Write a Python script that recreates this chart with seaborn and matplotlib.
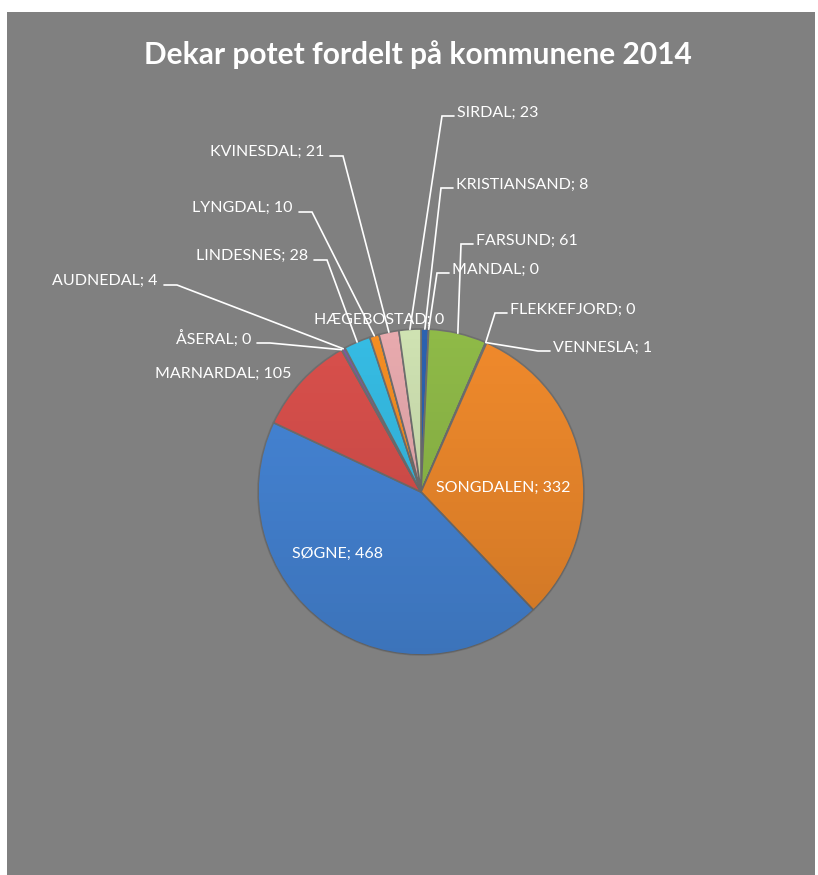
import numpy as np
import matplotlib
matplotlib.use('Agg')
import matplotlib.pyplot as plt
from matplotlib.patches import Circle, Rectangle
import seaborn as sns

# data (kommune order, Vest-Agder)
kommuner = ['KRISTIANSAND', 'MANDAL', 'FARSUND', 'FLEKKEFJORD', 'VENNESLA',
            'SONGDALEN', 'SØGNE', 'MARNARDAL', 'ÅSERAL', 'AUDNEDAL',
            'LINDESNES', 'LYNGDAL', 'HÆGEBOSTAD', 'KVINESDAL', 'SIRDAL']
dekar = [8, 0, 61, 0, 1, 332, 468, 105, 0, 4, 28, 10, 0, 21, 23]
tittel = 'Dekar potet fordelt på kommunene 2014'

farger = ['#2C62B0', '#C0504D', '#8FBA48', '#8064A2', '#4BACC6',
          '#F08A2C', '#4686D8', '#D9504C', '#9BBB59', '#7B5BA0',
          '#36BCE4', '#F48E24', '#4F81BD', '#E8AAAE', '#CFE2B2']

# label placement in pixels (x, y from top), kind of anchor
# 'r' = text right of leader, 'l' = text left of leader, 'c' = centred, no leader,
# 'lr' = right aligned, no leader, 'll' = left aligned, no leader
etikett_pos = {
    'KRISTIANSAND': (456, 185, 'r'),
    'MANDAL': (452, 270, 'r'),
    'FARSUND': (476, 241, 'r'),
    'FLEKKEFJORD': (510, 310, 'r'),
    'VENNESLA': (553, 348, 'r'),
    'SONGDALEN': (503, 488, 'c'),
    'SØGNE': (338, 554, 'c'),
    'MARNARDAL': (291, 374, 'lr'),
    'ÅSERAL': (251, 339, 'l'),
    'AUDNEDAL': (158, 281, 'l'),
    'LINDESNES': (308, 256, 'l'),
    'LYNGDAL': (293, 208, 'l'),
    'HÆGEBOSTAD': (314, 320, 'll'),
    'KVINESDAL': (324, 152, 'l'),
    'SIRDAL': (457, 113, 'r'),
}

W, H = 818, 875
sentrum = (421, H - 492)
radius = 163

sns.set_theme(style='white')
plt.rcParams['font.family'] = ['Lato', 'DejaVu Sans']

fig = plt.figure(figsize=(W / 100, H / 100), dpi=100, facecolor='white')
ax = fig.add_axes([0, 0, 1, 1])
ax.set_xlim(0, W)
ax.set_ylim(0, H)
ax.axis('off')

# grey chart area
ax.add_patch(Rectangle((7, 0), 808, H - 12, facecolor='#808080', edgecolor='none', zorder=0))

wedges, _ = ax.pie(dekar, colors=farger, startangle=90, counterclock=False,
                   center=sentrum, radius=radius, frame=True,
                   wedgeprops=dict(edgecolor='#6f6f6f', linewidth=1.2))
for w in wedges:
    w.set_zorder(2)

# soft shading like the bevelled excel pie
grad = np.linspace(0, 1, 256)[:, None] * np.ones((1, 2))
rgba = np.zeros((256, 2, 4))
rgba[..., 3] = 0.14 * grad
shade = ax.imshow(rgba, extent=(sentrum[0] - radius, sentrum[0] + radius,
                                sentrum[1] - radius, sentrum[1] + radius),
                  origin='upper', zorder=3, aspect='auto')
shade.set_clip_path(Circle(sentrum, radius, transform=ax.transData))

ax.set_xlim(0, W)
ax.set_ylim(0, H)
ax.set_aspect('auto')

fs = 11.5
total = sum(dekar)
kum = np.cumsum([0] + dekar)
for i, navn in enumerate(kommuner):
    tekst = f'{navn}; {dekar[i]}'
    tx, ty_top, kind = etikett_pos[navn]
    ty = H - ty_top
    mid = (kum[i] + kum[i + 1]) / 2 / total * 2 * np.pi
    ax_pt = (sentrum[0] + radius * np.sin(mid), sentrum[1] + radius * np.cos(mid))
    if kind == 'r':
        ax.text(tx, ty, tekst, ha='left', va='center', color='white', fontsize=fs, zorder=5)
        ax.plot([ax_pt[0], tx - 15, tx - 3], [ax_pt[1], ty - 3, ty - 3],
                color='white', lw=1.2, zorder=4, solid_joinstyle='miter')
    elif kind == 'l':
        ax.text(tx, ty, tekst, ha='right', va='center', color='white', fontsize=fs, zorder=5)
        ax.plot([ax_pt[0], tx + 19, tx + 6], [ax_pt[1], ty - 4, ty - 4],
                color='white', lw=1.2, zorder=4, solid_joinstyle='miter')
    elif kind == 'lr':
        ax.text(tx, ty, tekst, ha='right', va='center', color='white', fontsize=fs, zorder=5)
    elif kind == 'll':
        ax.text(tx, ty, tekst, ha='left', va='center', color='white', fontsize=fs, zorder=5)
    else:
        ax.text(tx, ty, tekst, ha='center', va='center', color='white', fontsize=fs, zorder=5)

ax.text(418, H - 55, tittel, ha='center', va='center', color='white',
        fontsize=21.5, fontweight='bold', zorder=5)

fig.savefig('out.png', dpi=100, facecolor='white')
